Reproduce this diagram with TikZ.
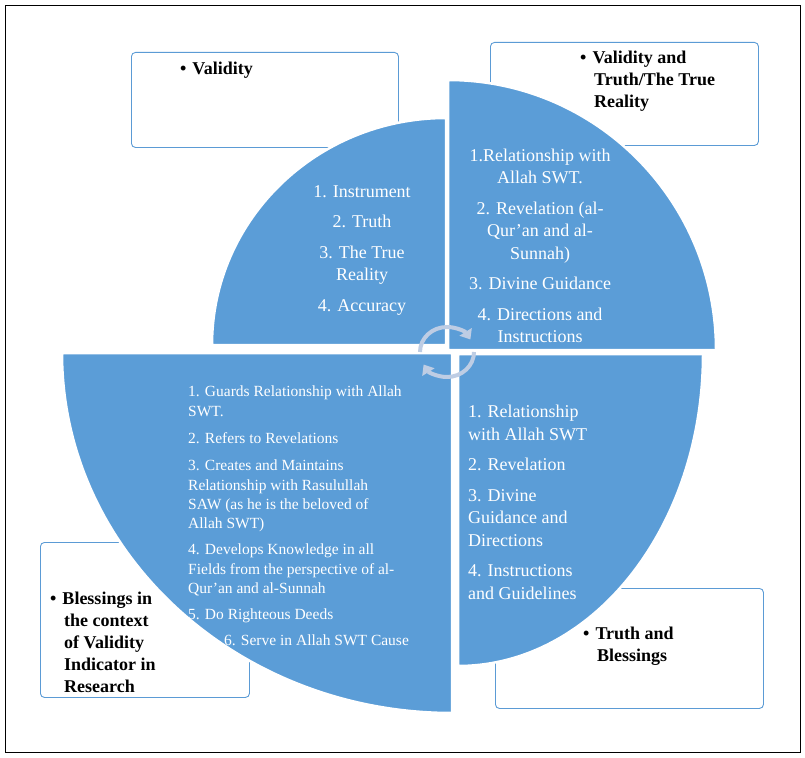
\documentclass[tikz,border=0pt]{standalone}
\usepackage{fontspec}
\setmainfont{Liberation Serif}
\usetikzlibrary{arrows.meta}
\definecolor{secblue}{RGB}{91,157,215}
\definecolor{boxblue}{RGB}{91,155,213}
\definecolor{arrowgray}{RGB}{190,205,228}
\begin{document}
\begin{tikzpicture}[x=1pt,y=-1pt,
  sector/.style={fill=secblue,draw=white,line width=2.5pt},
  tbox/.style={draw=boxblue,line width=0.9pt,rounded corners=4pt,fill=white},
  wtxt/.style={text=white,font=\fontsize{18}{22.5}\selectfont,inner sep=0pt},
  stxt/.style={text=white,font=\fontsize{15.5}{19.2}\selectfont,inner sep=0pt,anchor=north west,align=left},
  btxt/.style={font=\bfseries\fontsize{18}{22}\selectfont,inner sep=0pt,anchor=north west,align=left}]
\useasboundingbox (0,0) rectangle (805,757);
\draw[line width=0.6pt] (5,5) rectangle (800,752);
% boxes
\node[tbox,minimum width=267pt,minimum height=95pt,anchor=north west] (b1) at (131,52) {};
\node[tbox,minimum width=268pt,minimum height=103pt,anchor=north west] (b2) at (490,42) {};
\node[tbox,minimum width=209pt,minimum height=155pt,anchor=north west] (b3) at (40,542) {};
\node[tbox,minimum width=268pt,minimum height=120pt,anchor=north west] (b4) at (495,588) {};
% sectors
\draw[sector] (446,345) -- (212,345) arc (180:270:234 and 227) -- cycle;
\draw[sector] (448,350) -- (448,80) arc (270:360:268 and 270) -- cycle;
\draw[sector] (458,354) -- (458,666) arc (90:0:245 and 312) -- cycle;
\draw[sector] (452,353) -- (62,353) arc (180:90:390 and 360) -- cycle;
% circular arrows
\draw[arrowgray,line width=4pt,-{Triangle[length=9pt,width=14pt]}] (420,352) arc (180:330:27 and 25);
\draw[arrowgray,line width=4pt,-{Triangle[length=9pt,width=14pt]}] (474,352) arc (0:150:27 and 25);
% top-left text
\node[wtxt,align=center] (tl) at (362,250) {1. Instrument\\[8pt]2. Truth\\[8pt]3. The True\\Reality\\[8pt]4. Accuracy};
% top-right text
\node[wtxt,align=center] (tr) at (540,246) {1.Relationship with\\Allah SWT.\\[8pt]2. Revelation (al-\\Qur'an and al-\\Sunnah)\\[8pt]3. Divine Guidance\\[8pt]4. Directions and\\Instructions};
% bottom-right text
\node[wtxt,align=left,anchor=north west] (br) at (468,405) {1. Relationship\\with Allah SWT\\[8pt]2. Revelation\\[8pt]3. Divine\\Guidance and\\Directions\\[8pt]4. Instructions\\and Guidelines};
% bottom-left text
\node[stxt] (l1) at (188,386) {1. Guards Relationship with Allah\\SWT.};
\node[stxt] (l2) at (188,432) {2. Refers to Revelations};
\node[stxt] (l3) at (188,460) {3. Creates and Maintains\\Relationship with Rasulullah\\SAW (as he is the beloved of\\Allah SWT)};
\node[stxt] (l4) at (188,544) {4. Develops Knowledge in all\\Fields from the perspective of al-\\Qur'an and al-Sunnah};
\node[stxt] (l5) at (188,609) {5. Do Righteous Deeds};
\node[stxt] (l6) at (224,635) {6. Serve in Allah SWT Cause};
% box texts
\node[btxt] (t1) at (180,62) {\textbullet\hspace{6pt}Validity};
\node[btxt] (t2) at (580,51) {\textbullet\hspace{6pt}Validity and\\\hspace{14pt}Truth/The True\\\hspace{14pt}Reality};
\node[btxt] (t3) at (50,592) {\textbullet\hspace{6pt}Blessings in\\\hspace{14pt}the context\\\hspace{14pt}of Validity\\\hspace{14pt}Indicator in\\\hspace{14pt}Research};
\node[btxt] (t4) at (583,627) {\textbullet\hspace{6pt}Truth and\\\hspace{14pt}Blessings};
\end{tikzpicture}
\end{document}
